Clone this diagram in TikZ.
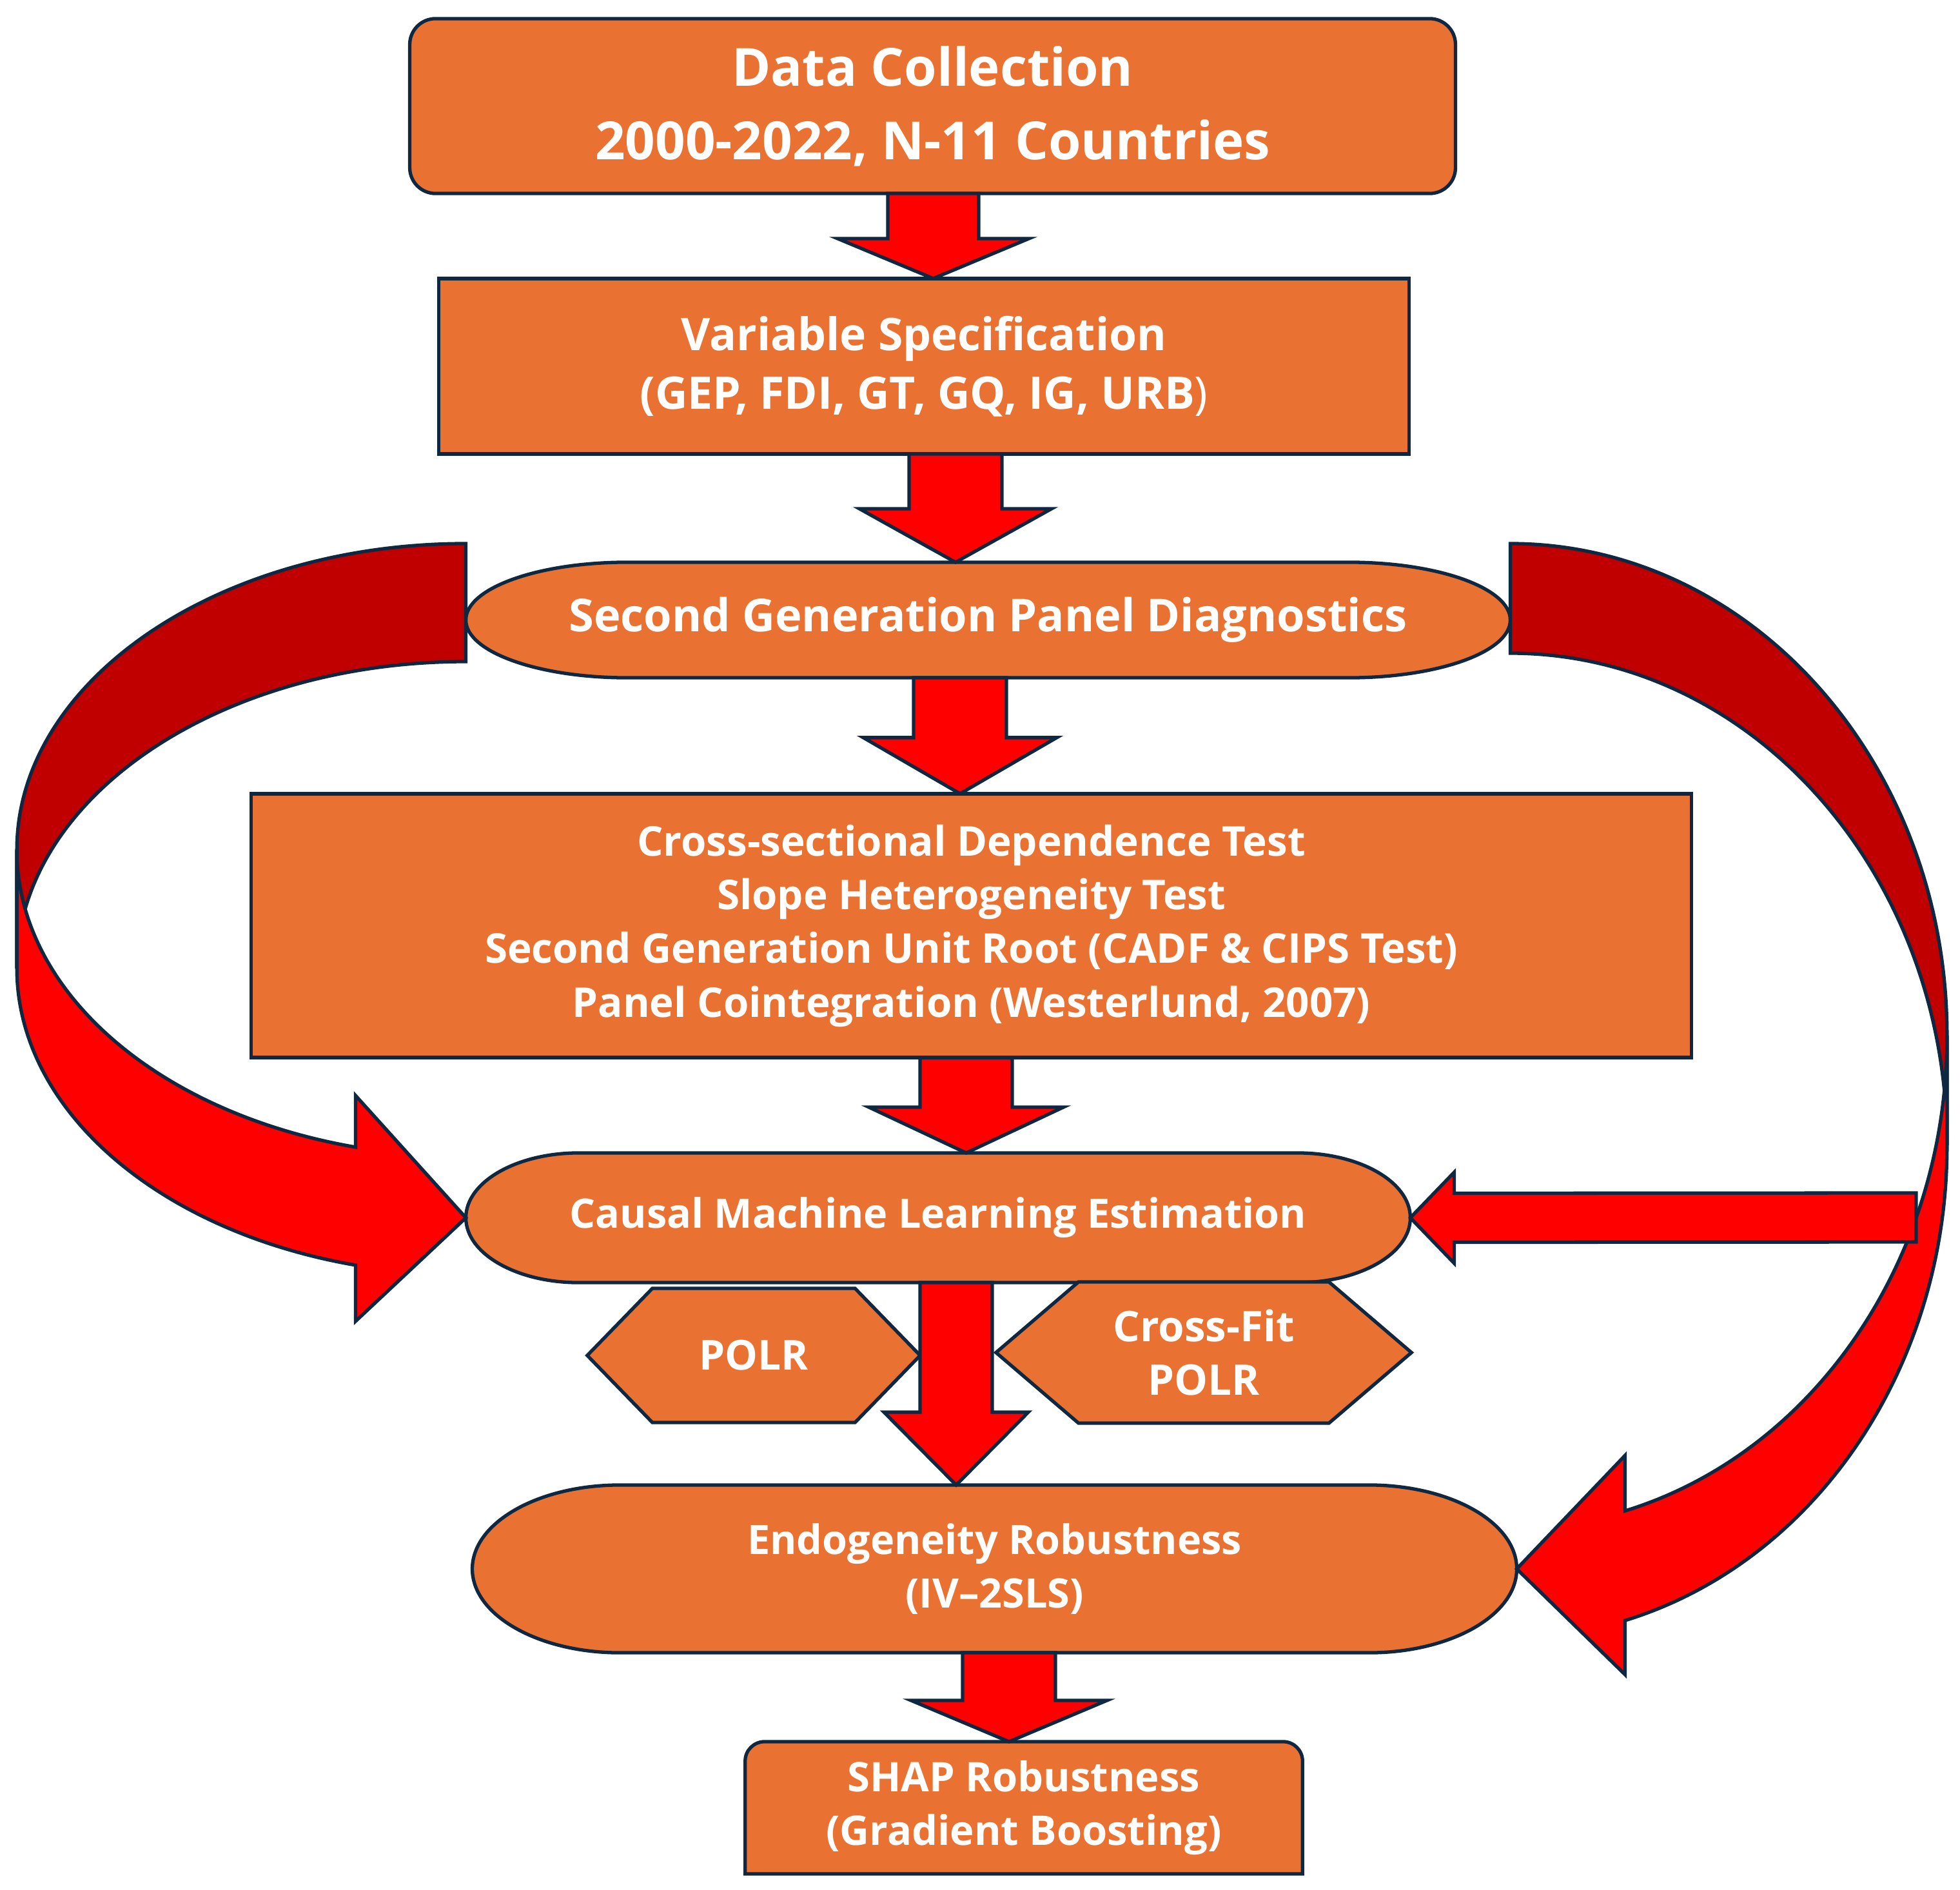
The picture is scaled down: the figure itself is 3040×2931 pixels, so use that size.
\documentclass[tikz,border=0pt]{standalone}
\usepackage{fontspec}
\setmainfont{Open Sans}
\usetikzlibrary{calc,backgrounds}
\definecolor{boxorange}{HTML}{E97132}
\definecolor{navyline}{HTML}{0E2841}
\definecolor{arrowred}{HTML}{FF0000}
\definecolor{backred}{HTML}{C00000}
\tikzset{
  outline/.style={draw=navyline, line width=1.5pt},
  boxshape/.style={outline, fill=boxorange},
  blockarrow/.style={outline, fill=arrowred},
  backband/.style={outline, fill=backred},
  lbl/.style={text=white, font=\bfseries\fontsize{18}{23.5}\selectfont, align=center, inner sep=0pt, outer sep=0pt},
  fs/.style={font=\bfseries\fontsize{#1}{23.7}\selectfont},
}
% terminator outline behind a node: #1 node, #2 end x radius, #3 end y radius
\newcommand\terminator[3]{%
  \path[boxshape] ([xshift=#2]#1.north west) -- ([xshift=-#2]#1.north east)
    arc[start angle=90, end angle=-90, x radius=#2, y radius=#3]
    -- ([xshift=#2]#1.south west)
    arc[start angle=270, end angle=90, x radius=#2, y radius=#3] -- cycle;}
% hexagon outline behind a node: #1 node, #2 corner inset
\newcommand\hexshape[2]{%
  \path[boxshape] (#1.west) -- ([xshift=#2]#1.north west) -- ([xshift=-#2]#1.north east)
    -- (#1.east) -- ([xshift=-#2]#1.south east) -- ([xshift=#2]#1.south west) -- cycle;}
% rectangle with rounded top corners: #1 node, #2 radius
\newcommand\topround[2]{%
  \path[boxshape] (#1.south west) -- ([yshift=-#2]#1.north west)
    arc[start angle=180, end angle=90, radius=#2] -- ([xshift=-#2]#1.north east)
    arc[start angle=90, end angle=0, radius=#2] -- (#1.south east) -- cycle;}
% block arrow pointing down: #1 from, #2 to, #3 x, #4 shaft half width, #5 head half width, #6 head length
\newcommand\blockdown[6]{%
  \draw[blockarrow] ($(#3,0 |- #1.south)+(-#4,0)$) -- ($(#3,0 |- #2.north)+(-#4,-#6)$)
    -- ($(#3,0 |- #2.north)+(-#5,-#6)$) -- (#3,0 |- #2.north)
    -- ($(#3,0 |- #2.north)+(#5,-#6)$) -- ($(#3,0 |- #2.north)+(#4,-#6)$)
    -- ($(#3,0 |- #1.south)+(#4,0)$) -- cycle;}
\begin{document}
\begin{tikzpicture}[x=0.01cm, y=-0.01cm]
\useasboundingbox (0,0) rectangle (3040,2931);

% ---------- nodes ----------
\node[lbl, font=\bfseries\fontsize{23.2}{32.5}\selectfont, boxshape, rounded corners=0.4cm, minimum width=16.21cm, minimum height=2.71cm] (dc) at (1446.5,164.5)
  {Data Collection\\2000-2022, N-11 Countries};
\node[lbl, font=\bfseries\fontsize{19.8}{26}\selectfont, boxshape, minimum width=15.04cm, minimum height=2.72cm] (vs) at (1433,568)
  {Variable Specification\\(GEP, FDI, GT, GQ, IG, URB{\mdseries)}};
\node[lbl, fs=20, minimum width=16.19cm, minimum height=1.79cm] (sg) at (1532.5,961.5)
  {Second Generation Panel Diagnostics};
\node[lbl, fs=18.1, boxshape, minimum width=22.33cm, minimum height=4.09cm] (big) at (1506.5,1435.5)
  {Cross-sectional Dependence Test\\Slope Heterogeneity Test\\Second Generation Unit Root (CADF \& CIPS Test)\\Panel Cointegration (Westerlund, 2007)};
\node[lbl, fs=17.9, minimum width=14.64cm, minimum height=2.01cm] (ml) at (1455,1888.5)
  {Causal Machine Learning Estimation};
\node[lbl, fs=18.2, minimum width=5.16cm, minimum height=2.08cm] (polr) at (1169,2102) {POLR};
\node[lbl, fs=18.6, minimum width=6.44cm, minimum height=2.19cm] (cf) at (1867,2097.5) {Cross-Fit\\POLR};
\node[lbl, fs=17.9, minimum width=16.19cm, minimum height=2.60cm] (endo) at (1542.5,2433)
  {Endogeneity Robustness\\(IV–2SLS)};
\node[lbl, fs=18, minimum width=8.64cm, minimum height=2.05cm] (shap) at (1588,2803.5)
  {SHAP Robustness\\(Gradient Boosting)};
\coordinate (hfree) at (2972,1888);

\begin{scope}[on background layer]
  \fill[white] (0,0) rectangle (3040,2931);
  \terminator{sg}{2.5cm}{0.895cm}
  \terminator{ml}{1.75cm}{1.005cm}
  \terminator{endo}{2.29cm}{1.30cm}
  \hexshape{polr}{1.01cm}
  \hexshape{cf}{1.28cm}
  \topround{shap}{0.3cm}
\end{scope}

% ---------- curved arrows ----------
\path[backband] ($(sg.west)+(0,-118.5)$)
  arc[start angle=90, end angle=180, x radius=6.96cm, y radius=4.75cm] coordinate (lA)
  -- ++(0,183) coordinate (lB)
  arc[start angle=180, end angle=90, x radius=6.96cm, y radius=4.75cm] -- cycle;
\path[backband] ($(sg.east)+(0,-118.5)$)
  arc[start angle=90, end angle=0, x radius=6.77cm, y radius=7.63cm] coordinate (rA)
  -- ++(0,170) coordinate (rB)
  arc[start angle=0, end angle=90, x radius=6.77cm, y radius=7.63cm] -- cycle;

\path[blockarrow] (lA)
  arc[start angle=180, end angle=255.78, x radius=6.96cm, y radius=4.75cm] coordinate (lC)
  -- ($(lC)+(0,-80)$) -- (ml.west) -- ($(lC)+(0,270)$) -- ($(lC)+(0,183)$)
  arc[start angle=255.78, end angle=180, x radius=6.96cm, y radius=4.75cm] -- cycle;
\path[blockarrow] (rA)
  arc[start angle=0, end angle=-74.76, x radius=6.77cm, y radius=7.63cm] coordinate (rC)
  -- ($(rC)+(0,-86)$) -- (endo.east) -- ($(rC)+(0,254)$) -- ($(rC)+(0,170)$)
  arc[start angle=-74.76, end angle=0, x radius=6.77cm, y radius=7.63cm] -- cycle;

% ---------- horizontal arrow into ML ----------
\draw[blockarrow] ($(hfree)+(0,-38)$) -- ($(ml.east)+(68,-38)$) -- ($(ml.east)+(68,-70.5)$)
  -- (ml.east) -- ($(ml.east)+(68,70.5)$) -- ($(ml.east)+(68,38)$) -- ($(hfree)+(0,38)$) -- cycle;

% ---------- straight down arrows ----------
\blockdown{dc}{vs}{1447.5}{70.5}{148.5}{62}
\blockdown{vs}{sg}{1482}{72}{149}{83}
\blockdown{sg}{big}{1489}{72}{150}{87}
\blockdown{big}{ml}{1498.5}{71.5}{151}{71}
\blockdown{ml}{endo}{1483}{56}{112}{113}
\blockdown{endo}{shap}{1565}{72}{152}{64}
\end{tikzpicture}
\end{document}
